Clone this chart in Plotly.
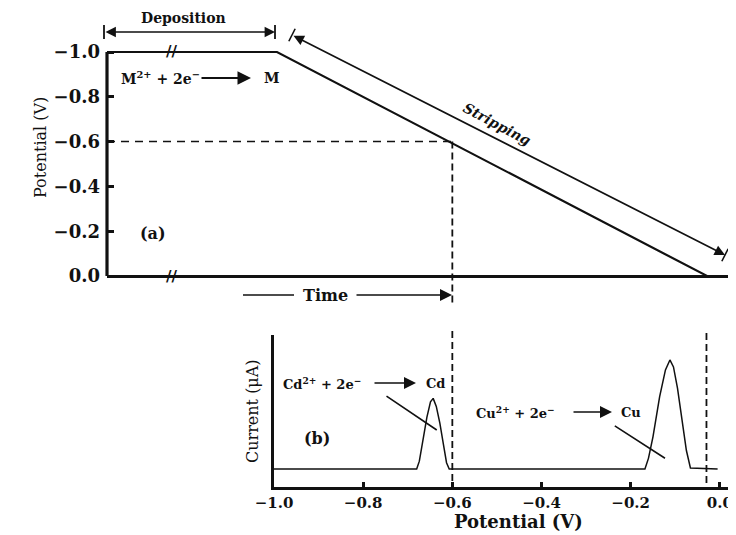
import numpy as np
import plotly.graph_objects as go

# ---------------- data ----------------
# (a) potential-time waveform (time in arbitrary units)
time_a = [0.0, 2.72, 9.6, 10.0]
potential_a = [-1.0, -1.0, 0.0, 0.0]
ytick_vals_a = [-1.0, -0.8, -0.6, -0.4, -0.2, 0.0]
ytick_text_a = ["−1.0", "−0.8", "−0.6", "−0.4", "−0.2", "0.0"]

# (b) stripping voltammogram (current in arbitrary units)
potential_b = [-1.0, -0.68, -0.674, -0.666, -0.657, -0.649, -0.643, -0.636,
               -0.628, -0.62, -0.613, -0.607,
               -0.168, -0.16, -0.15, -0.135, -0.122, -0.112, -0.104, -0.095,
               -0.085, -0.075, -0.066, -0.005]
current_b = [0.118, 0.118, 0.17, 0.31, 0.46, 0.56, 0.583, 0.53,
             0.42, 0.28, 0.16, 0.118,
             0.118, 0.19, 0.33, 0.594, 0.77, 0.836, 0.79, 0.65,
             0.44, 0.24, 0.125, 0.118]
xtick_vals_b = [-1.0, -0.8, -0.6, -0.4, -0.2, 0.0]
xtick_text_b = ["−1.0", "−0.8", "−0.6", "−0.4", "−0.2", "0.0"]
marker_potential = -0.6
end_potential = -0.03

# ---------------- layout geometry ----------------
W, H = 736, 535
OX, OY = 8, 8  # page body offset of the figure
FONT = "DejaVu Serif"
INK = "#111111"


def PX(x):
    return (x - OX) / W


def PY(y):
    return 1 - (y - OY) / H


XA_DOM = [PX(107), PX(732)]
XA_RANGE = [0.0, 10.0]
YA_RANGE = [0.05, -1.05]
YA_DOM = [PY(287.2), PY(40.8)]
XB_DOM = [PX(274), PX(735)]
XB_RANGE = [-1.0, 0.034]
YB_DOM = [PY(487), PY(335)]
YB_RANGE = [0.0, 1.0]


def lin(v, r, d):
    return d[0] + (v - r[0]) / (r[1] - r[0]) * (d[1] - d[0])


def ax_x(t):
    return lin(t, XA_RANGE, XA_DOM)


def ax_y(v):
    return lin(v, YA_RANGE, YA_DOM)


def bx_x(v):
    return lin(v, XB_RANGE, XB_DOM)


def bx_y(v):
    return lin(v, YB_RANGE, YB_DOM)


fig = go.Figure()

fig.add_trace(go.Scatter(x=time_a, y=potential_a, mode="lines",
                         line=dict(color=INK, width=2.2),
                         xaxis="x", yaxis="y", showlegend=False,
                         hoverinfo="skip"))
fig.add_trace(go.Scatter(x=potential_b, y=current_b, mode="lines",
                         line=dict(color=INK, width=1.5),
                         xaxis="x2", yaxis="y2", showlegend=False,
                         hoverinfo="skip"))

shapes = []
# y-axis line of panel (a)
shapes.append(dict(type="line", xref="paper", yref="paper",
                   x0=ax_x(0), x1=ax_x(0), y0=ax_y(0.0), y1=ax_y(-1.0),
                   line=dict(color=INK, width=3.2)))
# dashed guide at -0.6 V
vx = bx_x(marker_potential)
shapes.append(dict(type="line", xref="paper", yref="paper",
                   x0=ax_x(0), x1=vx, y0=ax_y(marker_potential),
                   y1=ax_y(marker_potential),
                   line=dict(color=INK, width=1.5, dash="8px,6px")))
shapes.append(dict(type="line", xref="paper", yref="paper",
                   x0=vx, x1=vx, y0=ax_y(marker_potential), y1=PY(303),
                   line=dict(color=INK, width=1.8, dash="7px,4px")))
shapes.append(dict(type="line", xref="paper", yref="paper",
                   x0=vx, x1=vx, y0=PY(331), y1=bx_y(0),
                   line=dict(color=INK, width=1.8, dash="7px,4px")))
shapes.append(dict(type="line", xref="paper", yref="paper",
                   x0=bx_x(end_potential), x1=bx_x(end_potential),
                   y0=PY(333), y1=bx_y(0),
                   line=dict(color=INK, width=1.8, dash="7px,4px")))
# Deposition end bars
for xb in (104, 275):
    shapes.append(dict(type="line", xref="paper", yref="paper",
                       x0=PX(xb), x1=PX(xb), y0=PY(25), y1=PY(39),
                       line=dict(color=INK, width=1.8)))
# Stripping end bars (perpendicular)
p0 = np.array([292.0, 35.0])
p1 = np.array([725.0, 255.0])
d = (p1 - p0) / np.linalg.norm(p1 - p0)
perp = np.array([-d[1], d[0]])
for p in (p0, p1):
    a = p - 7 * perp
    b = p + 7 * perp
    shapes.append(dict(type="line", xref="paper", yref="paper",
                       x0=PX(a[0]), x1=PX(b[0]), y0=PY(a[1]), y1=PY(b[1]),
                       line=dict(color=INK, width=1.6)))
# Time arrow left segment
shapes.append(dict(type="line", xref="paper", yref="paper",
                   x0=PX(243), x1=PX(294), y0=PY(295), y1=PY(295),
                   line=dict(color=INK, width=1.5)))

ann = []


def text(x, y, s, size=13, bold=True, xanchor="center", angle=0,
         italic=False, family=FONT):
    if bold:
        s = "<b>" + s + "</b>"
    if italic:
        s = "<i>" + s + "</i>"
    ann.append(dict(x=PX(x), y=PY(y), xref="paper", yref="paper", text=s,
                    showarrow=False, xanchor=xanchor, yanchor="middle",
                    textangle=angle,
                    font=dict(family=family, size=size, color=INK)))


def arrow(hx, hy, tx, ty, side="end", head=2, size=1.4, width=1.5):
    ann.append(dict(x=PX(hx), y=PY(hy), xref="paper", yref="paper", text="",
                    showarrow=True, ax=tx - hx, ay=ty - hy,
                    arrowhead=head, startarrowhead=head, arrowside=side,
                    arrowsize=size, startarrowsize=size, arrowwidth=width,
                    arrowcolor=INK))


# panel (a) texts
text(183, 18, "Deposition", size=14)
arrow(275, 32, 104, 32, side="end+start", size=1.3, width=1.6)
arrow(725, 255, 292, 35, side="end+start", size=1.3, width=1.6)
text(497, 124, "Stripping", size=14, bold=True, italic=True, angle=28)
text(119, 78, "M<sup>2+</sup> + 2e<sup>−</sup>", size=14, xanchor="left")
arrow(251, 78, 200, 78, size=1.5, width=1.8)
text(262, 78, "M", size=14, xanchor="left")
text(153, 234, "(a)", size=16)
text(325, 295, "Time", size=16)
arrow(452, 295, 355, 295, size=1.5, width=1.6)
text(171, 51, "//", size=15)
text(171, 276, "//", size=15)
text(40, 148, "Potential (V)", size=16, bold=False, angle=-90)

# panel (b) texts
text(281, 383, "Cd<sup>2+</sup> + 2e<sup>−</sup>", size=13, xanchor="left")
arrow(416, 383, 373, 383, size=1.5, width=1.6)
text(424, 383, "Cd", size=13, xanchor="left")
text(474, 412, "Cu<sup>2+</sup> + 2e<sup>−</sup>", size=13, xanchor="left")
arrow(612, 412, 572, 412, size=1.5, width=1.6)
text(619, 412, "Cu", size=13, xanchor="left")
text(317, 438, "(b)", size=16)
text(252, 411, "Current (μA)", size=16, bold=False, angle=-90)
text(519, 521, "Potential (V)", size=18)

# leader lines in panel (b)
for (xs, ys, xe, ye) in [(-0.751, 0.605, -0.635, 0.375),
                         (-0.239, 0.408, -0.123, 0.189)]:
    ann.append(dict(x=xe, y=ye, xref="x2", yref="y2", ax=xs, ay=ys,
                    axref="x2", ayref="y2", text="", showarrow=True,
                    arrowhead=0, arrowwidth=1.6, arrowcolor=INK))

fig.update_layout(
    width=W, height=H,
    margin=dict(l=0, r=0, t=0, b=0, autoexpand=False),
    paper_bgcolor="white", plot_bgcolor="rgba(0,0,0,0)",
    showlegend=False,
    shapes=shapes, annotations=ann,
    xaxis=dict(domain=XA_DOM, range=XA_RANGE, anchor="y", automargin=False,
               showgrid=False, zeroline=False, showline=False,
               showticklabels=False, ticks=""),
    yaxis=dict(domain=YA_DOM, range=YA_RANGE, anchor="x", automargin=False,
               showgrid=False, zeroline=True, zerolinecolor=INK,
               zerolinewidth=2.6, showline=False,
               tickmode="array", tickvals=ytick_vals_a, ticktext=ytick_text_a,
               ticks="inside", ticklen=7, tickwidth=2.5, tickcolor=INK,
               tickfont=dict(family=FONT, size=18, color=INK, weight="bold"),
               ticklabelstandoff=6),
    xaxis2=dict(domain=XB_DOM, range=XB_RANGE, anchor="y2", automargin=False,
                showgrid=False, zeroline=False, showline=True,
                linecolor=INK, linewidth=3,
                tickmode="array", tickvals=xtick_vals_b, ticktext=xtick_text_b,
                ticks="inside", ticklen=5, tickwidth=3, tickcolor=INK,
                tickfont=dict(family=FONT, size=15, color=INK, weight="bold")),
    yaxis2=dict(domain=YB_DOM, range=YB_RANGE, anchor="x2", automargin=False,
                showgrid=False, zeroline=False, showline=True,
                linecolor=INK, linewidth=3, showticklabels=False, ticks=""),
)

fig.write_html("out.html")
